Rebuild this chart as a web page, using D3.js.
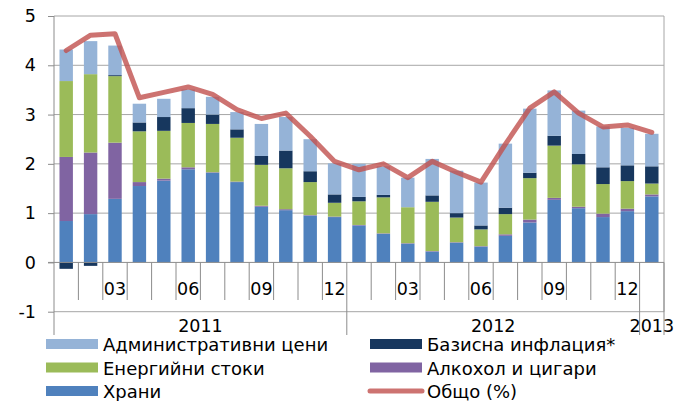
<!DOCTYPE html>
<html><head><meta charset="utf-8">
<script src="https://cdn.jsdelivr.net/npm/d3@7"></script>
<style>html,body{margin:0;padding:0;background:#fff;}svg{display:block;}</style>
</head><body>
<svg id="chart" width="677" height="401"></svg>
<script>
const months = ["01","02","03","04","05","06","07","08","09","10","11","12",
                "01","02","03","04","05","06","07","08","09","10","11","12","01"];
const years = ["2011","2012","2013"];
const yearSpans = [[0,12],[12,24],[24,25]];
const food    = [0.84,0.98,1.29,1.55,1.66,1.89,1.82,1.63,1.13,1.06,0.95,0.92,0.75,0.58,0.38,0.22,0.40,0.32,0.54,0.81,1.27,1.10,0.92,1.04,1.34];
const alcohol = [1.30,1.25,1.14,0.08,0.04,0.04,0.01,0.01,0.02,0.02,0.01,0.01,0.01,0.01,0.01,0.01,0.01,0.01,0.03,0.06,0.04,0.03,0.07,0.05,0.04];
const energy  = [1.54,1.59,1.35,1.03,0.97,0.90,0.98,0.89,0.83,0.83,0.67,0.28,0.48,0.73,0.73,1.00,0.50,0.34,0.41,0.84,1.06,0.86,0.60,0.56,0.22];
const core    = [-0.13,-0.07,0.02,0.18,0.28,0.30,0.19,0.17,0.18,0.36,0.22,0.17,0.09,0.05,0.00,0.13,0.09,0.08,0.13,0.11,0.20,0.21,0.34,0.32,0.35];
const admin   = [0.64,0.67,0.60,0.38,0.37,0.38,0.36,0.35,0.65,0.68,0.65,0.63,0.67,0.58,0.60,0.74,0.86,0.87,1.30,1.30,0.92,0.88,0.83,0.76,0.66];
const total   = [4.30,4.61,4.64,3.34,3.45,3.56,3.41,3.10,2.92,3.03,2.56,2.05,1.88,2.00,1.72,2.05,1.83,1.63,2.40,3.13,3.46,3.03,2.75,2.79,2.64];
const yTicks = [-1,0,1,2,3,4,5];
const monthLabelIdx = [2,5,8,11,14,17,20,23];

const keys = ["food","alcohol","energy","core","admin"];
const seriesData = {food, alcohol, energy, core, admin};
const colors = {food:"#4F81BD", alcohol:"#8064A2", energy:"#9BBB59", core:"#17375E", admin:"#95B3D7"};
const names = {admin:"Административни цени", energy:"Енергийни стоки", food:"Храни",
               core:"Базисна инфлация*", alcohol:"Алкохол и цигари", total:"Общо (%)"};

const rows = months.map((m,i) => {
  const r = {idx:i};
  keys.forEach(k => r[k] = seriesData[k][i]);
  return r;
});

const svg = d3.select("#chart");
const L = 54, R = 664, T = 16, B = 311.7;
const FONT = "'DejaVu Sans', Verdana, sans-serif";

const x = d3.scaleBand().domain(d3.range(months.length)).range([L,R]).paddingInner(0.45).paddingOuter(0.225);
const y = d3.scaleLinear().domain([-1,5]).range([B,T]);
const step = x.step();
const gridColor = "#A6A6A6";
const axisColor = "#8C8C8C";

// gridlines
svg.append("g").selectAll("line").data(yTicks.filter(t => t !== 0)).join("line")
  .attr("x1", L).attr("x2", R).attr("y1", d => y(d)).attr("y2", d => y(d))
  .attr("stroke", gridColor).attr("stroke-width", 1);

// right border
svg.append("line").attr("x1", R).attr("x2", R).attr("y1", T).attr("y2", B)
  .attr("stroke", gridColor).attr("stroke-width", 1);

// stacked bars
const stack = d3.stack().keys(keys).offset(d3.stackOffsetDiverging);
const stacked = stack(rows);
svg.append("g").selectAll("g").data(stacked).join("g")
  .attr("fill", d => colors[d.key])
  .selectAll("rect").data(d => d).join("rect")
  .attr("x", d => x(d.data.idx))
  .attr("width", x.bandwidth())
  .attr("y", d => y(Math.max(d[0], d[1])))
  .attr("height", d => Math.abs(y(d[0]) - y(d[1])));

// y axis
const yAxis = d3.axisLeft(y).tickValues(yTicks).tickSize(6).tickPadding(12).tickFormat(d => String(d));
const gy = svg.append("g").attr("transform", `translate(${L},0)`).call(yAxis);
gy.select(".domain").remove();
gy.selectAll(".tick line").attr("stroke", axisColor);
gy.selectAll(".tick text").attr("font-family", FONT).attr("font-size", 17.5).attr("fill", "#000");
svg.append("line").attr("x1", L).attr("x2", L).attr("y1", T).attr("y2", 335)
  .attr("stroke", axisColor).attr("stroke-width", 1);

// x axis at zero
const y0 = y(0);
svg.append("line").attr("x1", L - 6).attr("x2", R).attr("y1", y0).attr("y2", y0)
  .attr("stroke", axisColor).attr("stroke-width", 1);

// category ticks
const boundaries = d3.range(1, months.length);
svg.append("g").selectAll("line").data(boundaries).join("line")
  .attr("x1", d => x(d) - x.paddingOuter()*step).attr("x2", d => x(d) - x.paddingOuter()*step)
  .attr("y1", y0).attr("y2", d => (d % 12 === 0) ? 335 : 300)
  .attr("stroke", axisColor).attr("stroke-width", 1);
svg.append("line").attr("x1", R).attr("x2", R).attr("y1", y0).attr("y2", 335)
  .attr("stroke", axisColor).attr("stroke-width", 1);

// month labels
svg.append("g").selectAll("text").data(monthLabelIdx).join("text")
  .attr("x", d => x(d) + x.bandwidth()/2).attr("y", 295)
  .attr("text-anchor", "middle").attr("font-family", FONT).attr("font-size", 17.5)
  .attr("fill", "#000").text(d => months[d]);

// year labels
const edge = i => L + i * step;
svg.append("g").selectAll("text").data(years).join("text")
  .attr("x", (d,i) => (edge(yearSpans[i][0]) + edge(yearSpans[i][1]))/2).attr("y", 331.5)
  .attr("text-anchor", "middle").attr("font-family", FONT).attr("font-size", 17.5)
  .attr("fill", "#000").text(d => d);

// total line
const line = d3.line().x((d,i) => x(i) + x.bandwidth()/2).y(d => y(d));
svg.append("path").datum(total).attr("d", line)
  .attr("fill", "none").attr("stroke", "#C0504D").attr("stroke-opacity", 0.8)
  .attr("stroke-width", 5).attr("stroke-linejoin", "round").attr("stroke-linecap", "round");

// legend
const legendItems = [
  {key:"admin", col:0, row:0}, {key:"core", col:1, row:0},
  {key:"energy", col:0, row:1}, {key:"alcohol", col:1, row:1},
  {key:"food", col:0, row:2}, {key:"total", col:1, row:2}
];
const colX = [46, 370];
const rowY = [344, 367.5, 391];
const lg = svg.append("g");
legendItems.forEach(it => {
  const gx = colX[it.col], gyy = rowY[it.row];
  if (it.key === "total") {
    lg.append("line").attr("x1", gx).attr("x2", gx + 52).attr("y1", gyy).attr("y2", gyy)
      .attr("stroke", "#C0504D").attr("stroke-opacity", 0.8).attr("stroke-width", 5).attr("stroke-linecap", "round");
  } else {
    lg.append("rect").attr("x", gx).attr("y", gyy - 5).attr("width", 52).attr("height", 10)
      .attr("fill", colors[it.key]);
  }
  lg.append("text").attr("x", gx + 57).attr("y", gyy + 7)
    .attr("font-family", FONT).attr("font-size", 18).attr("fill", "#000").text(names[it.key]);
});
</script>
</body></html>
